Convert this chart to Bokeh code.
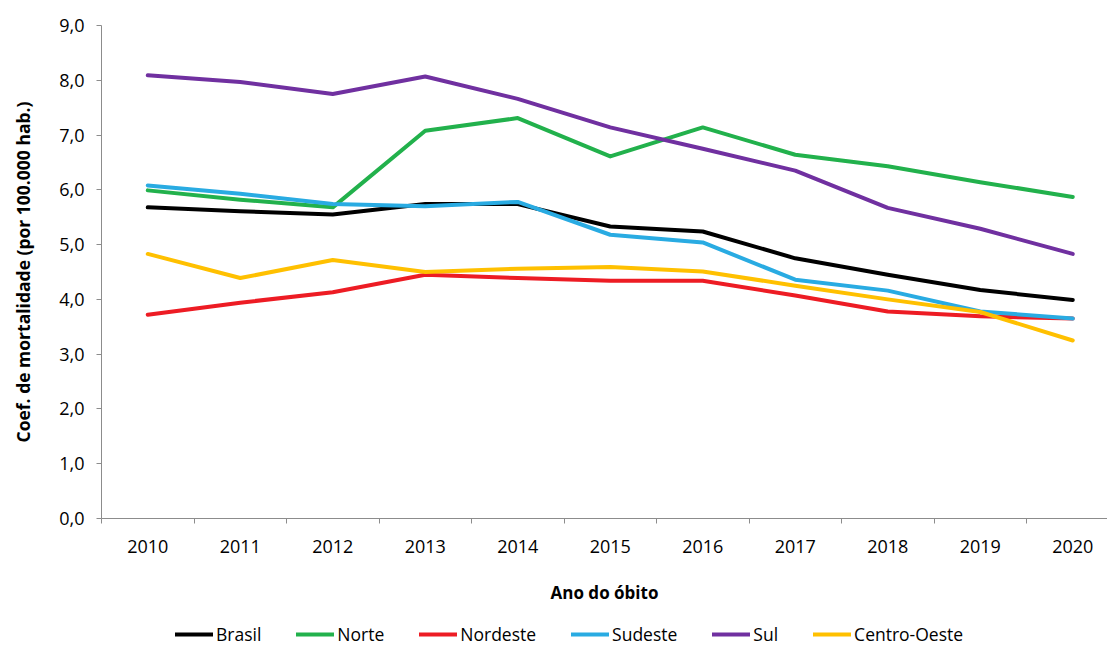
from bokeh.plotting import figure
from bokeh.layouts import column
from bokeh.models import Range1d, FixedTicker, Legend, LegendItem
from bokeh.embed import file_html
from bokeh.resources import INLINE

years = [2010, 2011, 2012, 2013, 2014, 2015, 2016, 2017, 2018, 2019, 2020]
brasil = [5.68, 5.61, 5.55, 5.74, 5.74, 5.33, 5.24, 4.75, 4.45, 4.17, 3.99]
norte = [5.99, 5.82, 5.68, 7.08, 7.31, 6.61, 7.14, 6.64, 6.43, 6.14, 5.87]
nordeste = [3.72, 3.94, 4.13, 4.45, 4.39, 4.34, 4.34, 4.07, 3.78, 3.69, 3.65]
sudeste = [6.08, 5.93, 5.74, 5.70, 5.78, 5.18, 5.04, 4.36, 4.16, 3.78, 3.65]
sul = [8.09, 7.97, 7.75, 8.07, 7.66, 7.14, 6.75, 6.35, 5.67, 5.29, 4.83]
centro_oeste = [4.83, 4.39, 4.72, 4.50, 4.56, 4.59, 4.51, 4.25, 4.00, 3.77, 3.25]
series_names = ["Brasil", "Norte", "Nordeste", "Sudeste", "Sul", "Centro-Oeste"]
series_values = [brasil, norte, nordeste, sudeste, sul, centro_oeste]
colors = ["#000000", "#22B14C", "#ED1C24", "#29ABE2", "#7030A0", "#FFC000"]
y_ticks = [0, 1, 2, 3, 4, 5, 6, 7, 8, 9]
y_labels = ["0,0", "1,0", "2,0", "3,0", "4,0", "5,0", "6,0", "7,0", "8,0", "9,0"]

FONT = "Open Sans"
AXIS_COLOR = "#8C8C8C"

p = figure(width=1107, height=618, output_backend="svg", toolbar_location=None,
           x_range=Range1d(2009.5, 2009.5 + 1006 / 92.5), y_range=Range1d(0, 9),
           min_border_left=101, min_border_right=0, min_border_top=25, min_border_bottom=100)
p.outline_line_color = None
p.xgrid.visible = False
p.ygrid.visible = False

for name, vals, col in zip(series_names, series_values, colors):
    p.line(years, vals, line_color=col, line_width=4, line_join="round", line_cap="round")

# y axis
p.yaxis.ticker = FixedTicker(ticks=y_ticks)
p.yaxis.major_label_overrides = {t: l for t, l in zip(y_ticks, y_labels)}
p.yaxis.axis_line_color = AXIS_COLOR
p.yaxis.major_tick_line_color = AXIS_COLOR
p.yaxis.major_tick_out = 5
p.yaxis.major_tick_in = 0
p.yaxis.minor_tick_line_color = None
p.yaxis.major_label_text_font = FONT
p.yaxis.major_label_text_font_size = "18px"
p.yaxis.major_label_text_color = "#000000"
p.yaxis.major_label_standoff = 12
p.yaxis.axis_label = "Coef. de mortalidade (por 100.000 hab.)"
p.yaxis.axis_label_text_font = FONT
p.yaxis.axis_label_text_font_size = "17.5px"
p.yaxis.axis_label_text_font_style = "bold"
p.yaxis.axis_label_text_color = "#000000"
p.yaxis.axis_label_standoff = 21

# x axis
minor = [y - 0.5 for y in years] + [years[-1] + 0.5]
p.xaxis.ticker = FixedTicker(ticks=years, minor_ticks=minor)
p.xaxis.major_label_overrides = {y: str(y) for y in years}
p.xaxis.axis_line_color = AXIS_COLOR
p.xaxis.major_tick_line_color = None
p.xaxis.major_tick_out = 0
p.xaxis.major_tick_in = 0
p.xaxis.minor_tick_line_color = AXIS_COLOR
p.xaxis.minor_tick_out = 5
p.xaxis.minor_tick_in = 0
p.xaxis.major_label_text_font = FONT
p.xaxis.major_label_text_font_size = "18px"
p.xaxis.major_label_text_color = "#000000"
p.xaxis.major_label_standoff = 16
p.xaxis.axis_label = "Ano do óbito"
p.xaxis.axis_label_text_font = FONT
p.xaxis.axis_label_text_font_size = "17px"
p.xaxis.axis_label_text_font_style = "bold"
p.xaxis.axis_label_text_color = "#000000"
p.xaxis.axis_label_standoff = 25

# legend strip below the chart (series lines lie outside its view, only the legend shows)
lg = figure(width=1107, height=27, output_backend="svg", toolbar_location=None,
            x_range=Range1d(0, 1), y_range=Range1d(100, 101),
            min_border_left=0, min_border_right=0, min_border_top=0, min_border_bottom=0)
lg.axis.visible = False
lg.xgrid.visible = False
lg.ygrid.visible = False
lg.outline_line_color = None
items = []
for name, vals, col in zip(series_names, series_values, colors):
    r = lg.line(years, vals, line_color=col, line_width=4, line_cap="round")
    items.append(LegendItem(label=name, renderers=[r]))
legend = Legend(items=items, orientation="horizontal", location=(74, -1),
                glyph_width=38, glyph_height=20, label_standoff=3, spacing=35,
                padding=0, margin=0, border_line_color=None, background_fill_alpha=0,
                label_text_font=FONT, label_text_font_size="17.5px", label_text_color="#000000")
lg.add_layout(legend, "center")

layout = column(p, lg, spacing=0)
open("out.html", "w").write(file_html(layout, INLINE))
